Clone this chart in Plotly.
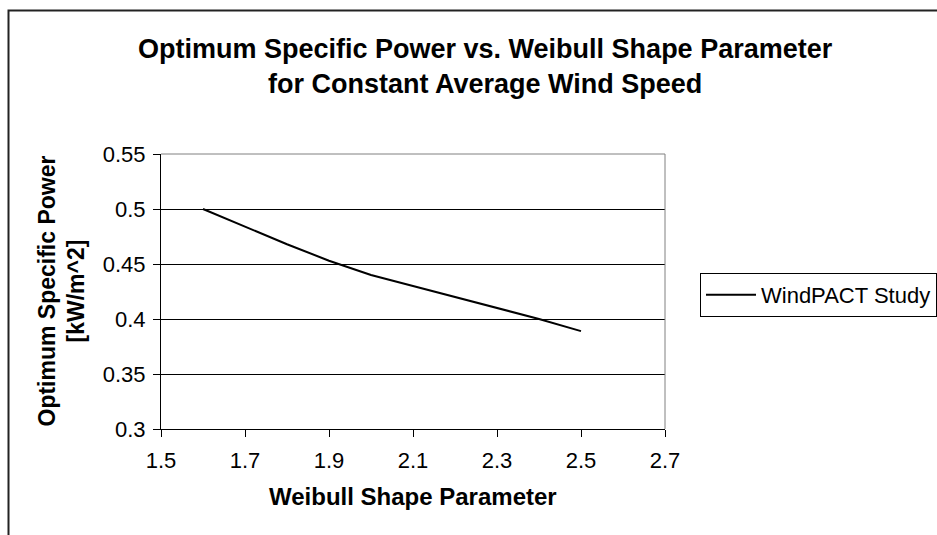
import plotly.graph_objects as go

# Weibull shape parameter vs. optimum specific power (kW/m^2)
shape_k = [1.6, 1.7, 1.8, 1.9, 2.0, 2.1, 2.2, 2.3, 2.4, 2.5]
specific_power = [0.500, 0.484, 0.468, 0.453, 0.440, 0.430, 0.420, 0.410, 0.400, 0.389]
series_name = "WindPACT Study"

x_ticks = [1.5, 1.7, 1.9, 2.1, 2.3, 2.5, 2.7]
x_tick_text = ["1.5", "1.7", "1.9", "2.1", "2.3", "2.5", "2.7"]
y_ticks = [0.3, 0.35, 0.4, 0.45, 0.5, 0.55]
y_tick_text = ["0.3", "0.35", "0.4", "0.45", "0.5", "0.55"]

FONT = "Liberation Sans, Arial, Helvetica, sans-serif"

# figure geometry (pixels)
W, H = 937, 535
L, R, T, B = 161, 272, 154, 106
PW, PH = W - L - R, H - T - B


def px(xp):
    return (xp - L) / PW


def py(yp):
    return (H - B - yp) / PH


fig = go.Figure()
fig.add_trace(go.Scatter(
    x=shape_k, y=specific_power, mode="lines", name=series_name,
    line=dict(color="black", width=2),
    showlegend=True,
))

fig.update_layout(
    width=W, height=H,
    margin=dict(l=L, r=R, t=T, b=B, autoexpand=False),
    paper_bgcolor="white", plot_bgcolor="white",
    font=dict(family=FONT, color="black", size=22),
    showlegend=True,
    legend=dict(
        x=px(700), y=py(273), xanchor="left", yanchor="top",
        bordercolor="black", borderwidth=1, bgcolor="white",
        font=dict(family=FONT, size=22, color="black"),
        itemwidth=50,
    ),
    xaxis=dict(
        range=[1.5, 2.7], tickvals=x_ticks, ticktext=x_tick_text,
        showgrid=False, zeroline=False,
        showline=True, linecolor="black", linewidth=1,
        ticks="outside", ticklen=7, tickcolor="black",
        tickfont=dict(size=22), ticklabelstandoff=5,
    ),
    yaxis=dict(
        range=[0.3, 0.55], tickvals=y_ticks, ticktext=y_tick_text,
        showgrid=True, gridcolor="black", gridwidth=1, zeroline=False,
        showline=True, linecolor="black", linewidth=1,
        ticks="outside", ticklen=7, tickcolor="black",
        tickfont=dict(size=22), ticklabelstandoff=3,
    ),
    annotations=[
        dict(
            text="<b>Optimum Specific Power vs. Weibull Shape Parameter<br>for Constant Average Wind Speed</b>",
            x=px(485), y=py(67), xref="paper", yref="paper",
            xanchor="center", yanchor="middle", showarrow=False,
            font=dict(family=FONT, size=27, color="black"),
        ),
        dict(
            text="<b>Optimum Specific Power<br>[kW/m^2]</b>",
            x=px(61), y=0.5, xref="paper", yref="paper",
            xanchor="center", yanchor="middle", showarrow=False, textangle=-90,
            font=dict(family=FONT, size=23, color="black"),
        ),
        dict(
            text="<b>Weibull Shape Parameter</b>",
            x=0.5, y=py(496), xref="paper", yref="paper",
            xanchor="center", yanchor="middle", showarrow=False,
            font=dict(family=FONT, size=24, color="black"),
        ),
    ],
    shapes=[
        # top and right edges of the plotting area
        dict(type="line", xref="paper", yref="paper", x0=0, x1=1, y0=1, y1=1,
             line=dict(color="#808080", width=1)),
        dict(type="line", xref="paper", yref="paper", x0=1, x1=1, y0=0, y1=1,
             line=dict(color="#808080", width=1)),
        # chart frame
        dict(type="rect", xref="paper", yref="paper",
             x0=px(8.5), x1=px(960), y0=py(10.5), y1=py(560),
             line=dict(color="#222222", width=2), layer="below"),
    ],
)

fig.write_html("out.html")
